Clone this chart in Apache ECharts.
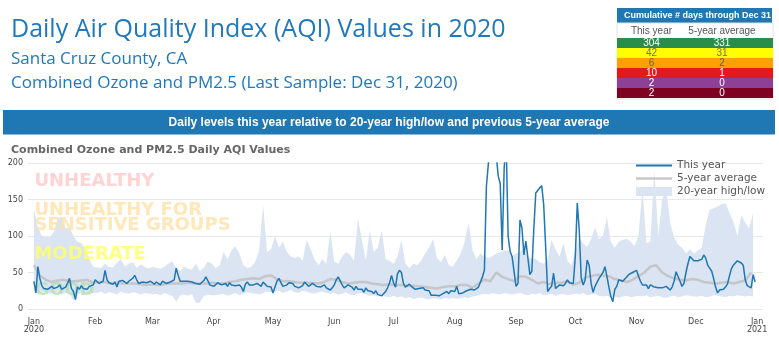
<!DOCTYPE html>
<html><head><meta charset="utf-8">
<script src="https://cdn.jsdelivr.net/npm/echarts@6/dist/echarts.min.js"></script>
<style>html,body{margin:0;padding:0;background:#fff}#c{width:779px;height:342px}</style>
</head><body><div id="c"></div>
<script>
// ---------- DATA ----------
// daily AQI, Jan 1 2020 .. Dec 31 2020
const thisYear = [
38,22,58,42,32,28,30,27,29,31,28,26,30,33,27,28,30,35,42,28,24,13,30,27,32,28,30,27,31,29,33,
40,42,35,33,38,53,40,36,38,34,37,30,38,36,39,37,35,38,36,42,46,40,35,33,37,39,36,35,38,
36,34,37,35,33,38,36,35,33,37,35,40,56,46,38,38,38,38,38,38,37,35,35,33,34,36,39,44,39,33,34,
31,33,36,37,33,32,35,31,36,33,35,32,34,33,30,24,34,37,33,31,33,31,35,34,31,37,35,31,33,30,
22,30,38,42,36,31,29,33,36,34,35,31,33,29,27,32,37,34,31,33,35,33,31,33,30,31,33,29,27,26,29,
33,40,44,42,33,29,31,33,34,30,26,31,27,29,27,23,29,25,26,24,21,25,20,20,18,19,24,29,36,46,
36,30,48,53,50,35,30,29,34,31,29,27,26,28,27,29,26,27,25,19,18,19,17,18,19,21,23,24,21,25,23,
24,31,21,20,22,24,25,26,27,26,26,27,30,37,44,53,168,166,230,250,240,210,182,172,81,193,230,100,79,72,70,
31,35,122,111,74,93,91,47,52,110,159,161,166,169,143,85,24,28,31,49,28,30,33,31,32,35,40,36,34,35,
72,145,108,42,33,40,67,60,35,23,31,33,42,40,50,58,45,30,17,10,27,31,40,38,38,40,44,47,49,50,50,
53,45,38,33,31,33,28,33,31,30,28,29,31,29,28,31,29,26,30,38,51,49,38,31,35,50,62,72,70,66,
67,66,65,68,74,70,60,56,52,42,30,22,26,25,27,30,34,45,55,60,60,66,64,63,60,40,32,30,29,47,37
];
// 5-year average, one value every 3 days from Jan 1
const avgStep = 3;
const avg5 = [
60,46,40,37,39,40,38,38,39,40,
36,37,37,35,36,35,35,35,34,33,
34,33,34,35,35,35,36,35,35,35,
36,35,35,37,38,40,41,42,41,45,
46,41,38,38,37,36,36,36,35,37,
41,40,37,35,36,37,37,35,34,33,
34,33,33,32,32,31,30,29,28,30,
31,31,33,33,29,35,40,38,50,44,
41,38,45,44,40,35,37,34,36,36,
38,33,36,43,45,47,46,45,41,39,
37,40,45,50,58,60,50,45,42,40,
39,41,40,37,36,35,36,37,35,37,
39,50
];
// 20-year high / low, one value every 2 days from Jan 1
const bandStep = 2;
const bandHigh = [
136,112,100,99,98,105,124,126,110,112,100,92,90,82,68,58,
57,56,62,58,57,63,68,58,62,64,56,61,58,55,
58,56,55,58,62,65,56,52,58,55,54,62,52,57,65,62,
56,60,78,68,80,86,76,60,56,58,64,80,142,78,82,
100,84,92,78,72,70,72,66,95,82,68,60,68,62,106,
65,62,72,78,74,66,124,95,66,108,78,84,108,68,66,
62,72,95,62,56,62,60,66,76,84,96,70,64,74,60,58,
66,76,92,118,80,68,76,72,70,72,76,78,80,80,72,
76,78,84,70,70,68,64,62,68,95,82,72,90,66,60,
80,96,90,85,96,112,96,100,125,92,84,92,95,96,92,86,
100,165,90,92,190,100,150,165,118,98,88,84,76,82,76,
80,84,115,136,138,140,144,145,132,120,100,128,118,110,132
];
const bandLow = [
25,22,24,23,21,22,24,20,22,21,12,20,22,21,23,22,
22,24,21,23,22,20,24,22,21,23,22,20,22,21,
20,21,19,22,20,18,10,19,20,18,21,8,9,18,20,19,
19,20,21,18,20,22,19,21,23,22,21,20,22,24,23,
24,25,22,24,26,23,22,25,24,22,21,23,24,22,21,
22,20,21,23,20,19,21,22,20,18,19,17,18,17,16,
18,16,17,15,16,14,15,16,14,13,15,14,13,15,14,15,
14,15,16,15,17,18,20,21,20,22,21,20,22,21,20,
21,22,20,19,21,20,22,19,20,21,18,20,21,19,20,
21,20,22,19,20,21,18,17,18,16,17,15,17,18,16,17,
18,17,19,16,17,18,16,15,17,18,16,17,19,18,17,
17,18,16,17,19,18,17,16,18,17,19,18,17,18,17
];
const monthNames = ['Jan','Feb','Mar','Apr','May','Jun','Jul','Aug','Sep','Oct','Nov','Dec'];
const zoneNames = ['UNHEALTHY','UNHEALTHY FOR\nSENSITIVE GROUPS','MODERATE','GOOD'];
const zoneCenters = [175,125,75,25];
const yMin = 0, yMax = 200, yInterval = 50;
const tableCols = ['This year','5-year average'];
const daysThisYear = [304,42,6,10,2,2];
const daysAvg = [331,31,2,1,0,0];

// ---------- STYLE ----------
const zoneColors = ['#ffc8c8','#ffe1a6','#ffff66','#b4dfb4'];
const rowColors = ['#2b8d4a','#ffff00','#ffa000','#e31a1c','#8e3f96','#7e0023'];
const rowText = ['#ffffff','#707070','#606060','#ffffff','#ffffff','#ffffff'];
const blue = '#1f77b4';
const avgColor = 'rgba(190,190,190,0.8)';

// categories: Dec 29 2019 .. Jan 4 2021
const lead = 3;
const cats = [];
for (let i = 0; i < 373; i++) {
  const d = new Date(Date.UTC(2019, 11, 29 + i));
  cats.push(d.toISOString().slice(0, 10));
}

const chart = echarts.init(document.getElementById('c'), null, {renderer: 'canvas'});

const graphics = [
  {type:'text', x:11, y:30, style:{text:'Daily Air Quality Index (AQI) Values in 2020', font:'25px "Open Sans"', fill:'#2079bd', verticalAlign:'middle'}},
  {type:'text', x:11, y:59, style:{text:'Santa Cruz County, CA', font:'17px "Open Sans"', fill:'#2079bd', verticalAlign:'middle'}},
  {type:'text', x:11, y:83.5, style:{text:'Combined Ozone and PM2.5 (Last Sample: Dec 31, 2020)', font:'17px "Open Sans"', fill:'#2079bd', verticalAlign:'middle'}},
  {type:'rect', shape:{x:3, y:110, width:772, height:24.5}, style:{fill:blue}},
  {type:'text', x:389, y:122.5, style:{text:'Daily levels this year relative to 20-year high/low and previous 5-year average', font:'bold 12px "Liberation Sans"', fill:'#fff', align:'center', verticalAlign:'middle'}},
  {type:'text', x:11, y:150, style:{text:'Combined Ozone and PM2.5 Daily AQI Values', font:'bold 11px "DejaVu Sans"', fill:'#666', verticalAlign:'middle'}},
  {type:'rect', shape:{x:617, y:8, width:155, height:15}, style:{fill:blue}},
  {type:'text', x:624, y:15.5, style:{text:'Cumulative # days through Dec 31', font:'bold 9px "Liberation Sans"', fill:'#fff', verticalAlign:'middle'}},
  {type:'rect', shape:{x:617, y:23, width:156, height:76}, style:{fill:'none', stroke:'#e2e2e2', lineWidth:1}},
  {type:'text', x:651.5, y:31, style:{text:tableCols[0], font:'10px "Liberation Sans"', fill:'#555', align:'center', verticalAlign:'middle'}},
  {type:'text', x:722, y:31, style:{text:tableCols[1], font:'10px "Liberation Sans"', fill:'#555', align:'center', verticalAlign:'middle'}}
];
daysThisYear.forEach((v, i) => {
  graphics.push({type:'rect', shape:{x:617, y:38 + 10*i, width:156, height:10}, style:{fill:rowColors[i]}});
  graphics.push({type:'text', x:651.5, y:43.5 + 10*i, style:{text:String(v), font:'10px "Liberation Sans"', fill:rowText[i], align:'center', verticalAlign:'middle'}});
  graphics.push({type:'text', x:722, y:43.5 + 10*i, style:{text:String(daysAvg[i]), font:'10px "Liberation Sans"', fill:rowText[i], align:'center', verticalAlign:'middle'}});
});

const option = {
  animation: false,
  backgroundColor: '#fff',
  grid: {left: 28, right: 16, top: 163, bottom: 33, containLabel: false},
  legend: {
    orient: 'vertical', left: 636, top: 159, padding: 0, itemWidth: 36, itemHeight: 9, itemGap: 0,
    textStyle: {fontFamily: 'DejaVu Sans', fontSize: 10.5, color: '#555', lineHeight: 13},
    data: [
      {name: 'This year', icon: 'path://M0,0h36v2h-36z', itemStyle: {color: blue}},
      {name: '5-year average', icon: 'path://M0,0h36v2.5h-36z', itemStyle: {color: '#c8c8c8'}},
      {name: '20-year high/low', icon: 'rect', itemStyle: {color: '#dae4f2'}}
    ]
  },
  xAxis: {
    type: 'category', data: cats, boundaryGap: false,
    axisLine: {show: false}, axisTick: {show: false}, splitLine: {show: false},
    axisLabel: {
      interval: (i, v) => v.slice(8, 10) === '01',
      formatter: (v) => {
        const m = +v.slice(5, 7) - 1;
        return m === 0 ? monthNames[m] + '\n' + v.slice(0, 4) : monthNames[m];
      },
      fontFamily: 'DejaVu Sans', fontSize: 8, color: '#444', margin: 9, lineHeight: 8
    }
  },
  yAxis: {
    type: 'value', min: yMin, max: yMax, interval: yInterval,
    axisLine: {show: false}, axisTick: {show: false},
    axisLabel: {fontFamily: 'DejaVu Sans', fontSize: 8, color: '#444', margin: 5},
    splitLine: {lineStyle: {color: '#e8e8e8', width: 1}}
  },
  graphic: graphics,
  series: [
    {
      name: '_low', type: 'line', stack: 'band', symbol: 'none', silent: true, z: 1,
      lineStyle: {width: 0, opacity: 0},
      data: bandLow.map((v, i) => [i * bandStep + lead, v])
    },
    {
      name: '20-year high/low', type: 'line', stack: 'band', symbol: 'none', silent: true, z: 1,
      color: '#dae4f2', itemStyle: {color: '#dae4f2'},
      lineStyle: {width: 0, opacity: 0},
      areaStyle: {color: '#dae4f2', opacity: 1},
      data: bandHigh.map((v, i) => [i * bandStep + lead, v - bandLow[i]])
    },
    {
      name: '_zones', type: 'scatter', symbolSize: 1, itemStyle: {color: 'rgba(0,0,0,0)'}, silent: true, z: 2,
      label: {show: true, position: 'right', distance: 0,
              fontFamily: 'DejaVu Sans', fontWeight: 'bold', fontSize: 18, lineHeight: 15},
      data: zoneCenters.map((v, i) => ({
        value: [lead, v],
        label: {show: true, formatter: zoneNames[i], color: zoneColors[i]}
      }))
    },
    {
      name: '5-year average', type: 'line', symbol: 'none', z: 3,
      color: '#c8c8c8', lineStyle: {color: avgColor, width: 2.5},
      data: avg5.map((v, i) => [i * avgStep + lead, v])
    },
    {
      name: 'This year', type: 'line', symbol: 'none', z: 4,
      color: blue, lineStyle: {color: blue, width: 1.5},
      data: thisYear.map((v, i) => [i + lead, v])
    }
  ]
};
chart.setOption(option);
</script></body></html>
